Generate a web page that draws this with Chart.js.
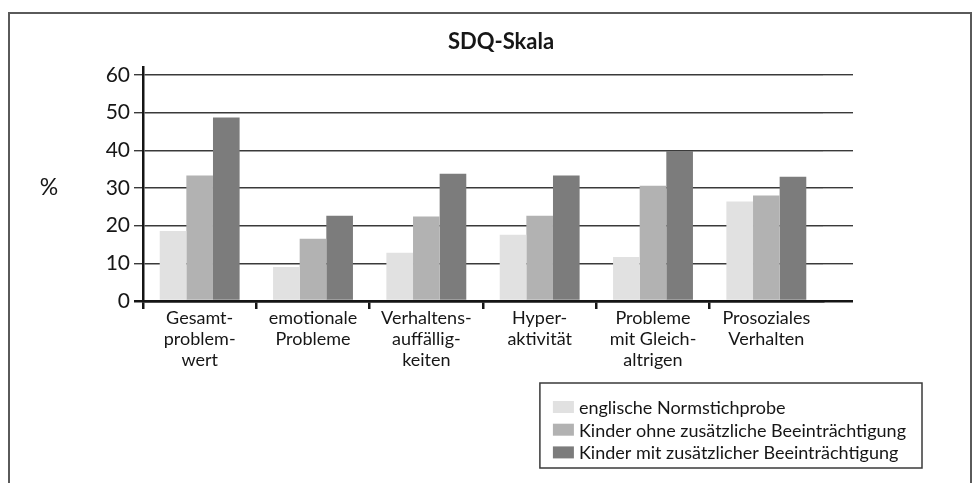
<!DOCTYPE html>
<html>
<head>
<meta charset="utf-8">
<script src="https://cdn.jsdelivr.net/npm/chart.js@4.4.1/dist/chart.umd.min.js"></script>
<style>
  html, body { margin: 0; padding: 0; background: #fff; overflow: hidden; }
  body { width: 972px; height: 483px; position: relative; }
  #frame {
    position: absolute; left: 8px; top: 12px; width: 960px; height: 500px;
    border: 2px solid #5a5a5a; border-bottom: none;
  }
  #chart { position: absolute; left: 0; top: 0; }
</style>
</head>
<body>
<div id="frame"></div>
<canvas id="chart" width="1002" height="483"></canvas>
<script>
/* ── data ─────────────────────────────────── */
const categories = [
  ['Gesamt-', 'problem-', 'wert'],
  ['emotionale', 'Probleme'],
  ['Verhaltens-', 'auffällig-', 'keiten'],
  ['Hyper-', 'aktivität'],
  ['Probleme', 'mit Gleich-', 'altrigen'],
  ['Prosoziales', 'Verhalten'],
];
const seriesLabels = [
  'englische Normstichprobe',
  'Kinder ohne zusätzliche Beeinträchtigung',
  'Kinder mit zusätzlicher Beeinträchtigung',
];
const normValues = [18.6, 9.0, 12.8, 17.6, 11.7, 26.4];
const ohneValues = [33.3, 16.5, 22.4, 22.6, 30.6, 28.0];
const mitValues  = [48.7, 22.6, 33.8, 33.3, 39.8, 33.0];
const yMax = 60;
const yStep = 10;
const yUnit = '%';

const SERIES_COLORS = ['#e1e1e1', '#b2b2b2', '#7c7c7c'];
const FONT = 'Lato, "Open Sans", sans-serif';
const INK = '#161616';

/* ── small plugins: "%" label and boxed legend ── */
const unitLabel = {
  id: 'unitLabel',
  afterDraw(chart) {
    const { ctx } = chart;
    const y = chart.scales.y.getPixelForValue(yMax / 2);
    ctx.save();
    ctx.font = '23px ' + FONT;
    ctx.fillStyle = INK;
    ctx.textAlign = 'center';
    ctx.textBaseline = 'middle';
    ctx.fillText(yUnit, 49, y);
    ctx.restore();
  },
};

const boxLegend = {
  id: 'boxLegend',
  afterDraw(chart) {
    const { ctx } = chart;
    const sets = chart.data.datasets;
    const right = 922, top = 383, bottom = 468;
    const rowH = 22.7, sw = 21, sh = 12;
    ctx.save();
    ctx.font = '18px ' + FONT;
    const textW = Math.max(...sets.map(d => ctx.measureText(d.label).width));
    const left = right - 16 - textW - 5 - sw - 13;
    ctx.strokeStyle = '#3a3a3a';
    ctx.lineWidth = 1.5;
    ctx.strokeRect(left, top, right - left, bottom - top);
    ctx.textBaseline = 'middle';
    sets.forEach((d, i) => {
      const cy = top + 24 + i * rowH;
      ctx.fillStyle = d.backgroundColor;
      ctx.fillRect(left + 13, cy - sh / 2, sw, sh);
      ctx.fillStyle = INK;
      ctx.fillText(d.label, left + 13 + sw + 5, cy + 1);
    });
    ctx.restore();
  },
};

const gridW = (c) => (c.tick && c.tick.value === 0 ? 2.5 : 1.4);
const gridC = (c) => (c.tick && c.tick.value === 0 ? '#151515' : '#3a3a3a');

new Chart(document.getElementById('chart'), {
  type: 'bar',
  data: {
    labels: categories,
    datasets: [
      { label: seriesLabels[0], data: normValues, backgroundColor: SERIES_COLORS[0] },
      { label: seriesLabels[1], data: ohneValues, backgroundColor: SERIES_COLORS[1] },
      { label: seriesLabels[2], data: mitValues,  backgroundColor: SERIES_COLORS[2] },
    ],
  },
  options: {
    responsive: false,
    animation: false,
    layout: { padding: 0 },
    datasets: { bar: { categoryPercentage: 0.705, barPercentage: 1.0, borderWidth: 0 } },
    plugins: {
      legend: { display: false },
      tooltip: { enabled: false },
      title: {
        display: true,
        text: 'SDQ-Skala',
        color: INK,
        font: { family: FONT, size: 22, weight: 'bold' },
        padding: { top: 29, bottom: 12 },
      },
    },
    scales: {
      x: {
        z: 1,
        offset: true,
        afterFit: (s) => { s.height = 182; },
        grid: {
          offset: true,
          drawOnChartArea: false,
          tickLength: 8,
          lineWidth: 2.5,
          // only the left edge of each category gets a tick
          color: (c) => (c.tick ? '#151515' : 'rgba(0,0,0,0)'),
        },
        border: { display: true, color: '#151515', width: 2.5 },
        ticks: {
          color: INK,
          padding: -2,
          maxRotation: 0,
          autoSkip: false,
          font: { family: FONT, size: 18, lineHeight: 1.19 },
        },
      },
      y: {
        min: 0,
        max: 62,
        afterFit: (s) => { s.width = 143; },
        grid: { tickLength: 9, lineWidth: gridW, color: gridC },
        border: { display: true, color: '#151515', width: 2.5 },
        ticks: {
          stepSize: yStep,
          includeBounds: false,
          padding: 4,
          color: INK,
          font: { family: FONT, size: 21 },
        },
      },
      y2: {
        position: 'right',
        min: 0,
        max: 62,
        afterFit: (s) => { s.width = 179; },
        grid: { drawOnChartArea: false, tickLength: 30, lineWidth: gridW, color: gridC },
        border: { display: false },
        ticks: { stepSize: yStep, includeBounds: false, display: false },
      },
    },
  },
  plugins: [unitLabel, boxLegend],
});
</script>
</body>
</html>
